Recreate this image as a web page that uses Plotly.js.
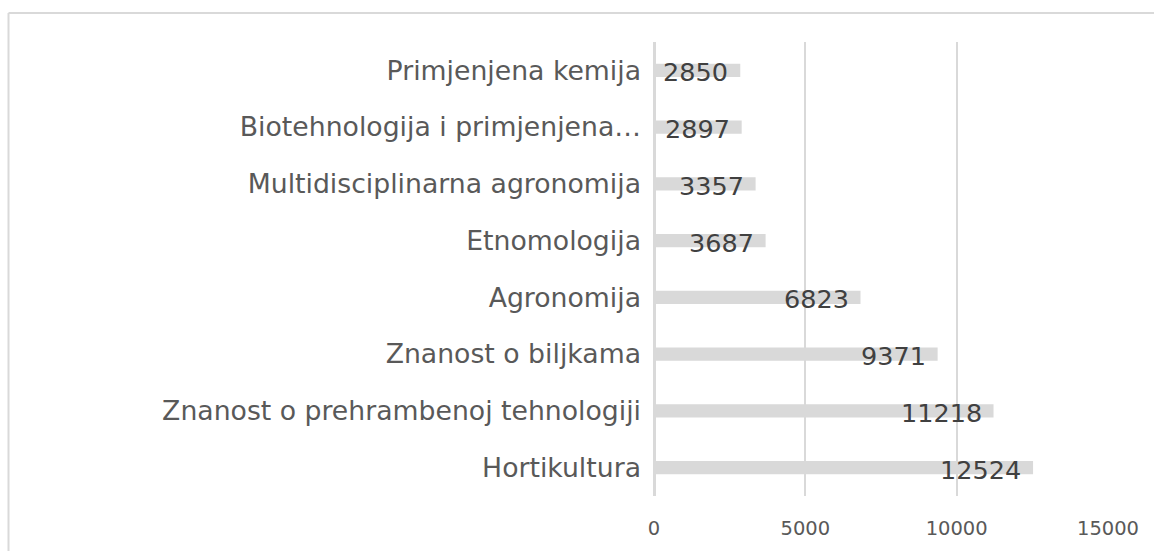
<!DOCTYPE html>
<html>
<head>
<meta charset="utf-8">
<script src="https://cdn.plot.ly/plotly-3.0.1.min.js"></script>
<style>
  html, body { margin: 0; padding: 0; background: #ffffff; }
  #chart { width: 1154px; height: 551px; }
</style>
</head>
<body>
<div id="chart"></div>
<script>
// Categories listed top to bottom
const categories = [
  "Primjenjena kemija",
  "Biotehnologija i primjenjena…",
  "Multidisciplinarna agronomija",
  "Etnomologija",
  "Agronomija",
  "Znanost o biljkama",
  "Znanost o prehrambenoj tehnologiji",
  "Hortikultura"
];
const values = [2850, 2897, 3357, 3687, 6823, 9371, 11218, 12524];
const xTickValues = [0, 5000, 10000, 15000];
const xTickLabels = ["0", "5000", "10000", "15000"];

const W = 1154, H = 551;
const mL = 654, mR = 46, mT = 42, mB = 55;
const plotW = W - mL - mR, plotH = H - mT - mB;
// frame lines (left and top edge of chart area) in paper coords
const frameX = (8.5 - mL) / plotW;
const frameY = (H - mB - 13) / plotH;

const trace = {
  type: "bar",
  orientation: "h",
  y: categories,
  x: values,
  marker: { color: "#d9d9d9", line: { width: 0 } },
  width: 0.23,
  hoverinfo: "none"
};

// data labels placed at each bar's end through the axes
const labels = values.map((v, i) => ({
  x: v,
  y: categories[i],
  xref: "x",
  yref: "y",
  text: String(v),
  showarrow: false,
  xanchor: "right",
  yanchor: "middle",
  xshift: -10,
  yshift: -2,
  font: { family: "DejaVu Sans", size: 25.5, color: "#404040" }
}));

const layout = {
  width: W,
  height: H,
  margin: { l: mL, r: mR, t: mT, b: mB, pad: 0 },
  paper_bgcolor: "#ffffff",
  plot_bgcolor: "#ffffff",
  showlegend: false,
  font: { family: "DejaVu Sans", color: "#595959" },
  xaxis: {
    range: [0, 15000],
    tickvals: xTickValues,
    ticktext: xTickLabels,
    showgrid: true,
    gridcolor: "#d9d9d9",
    gridwidth: 2,
    zeroline: true,
    zerolinecolor: "#d9d9d9",
    zerolinewidth: 3,
    showline: false,
    ticks: "",
    ticklabelstandoff: 18,
    tickfont: { family: "DejaVu Sans", size: 19.5, color: "#595959" },
    fixedrange: true
  },
  yaxis: {
    type: "category",
    autorange: "reversed",
    showgrid: false,
    zeroline: false,
    showline: false,
    ticks: "",
    ticklabelstandoff: 12,
    tickfont: { family: "DejaVu Sans", size: 26.7, color: "#595959" },
    fixedrange: true
  },
  annotations: labels,
  shapes: [
    { type: "line", xref: "paper", yref: "paper", x0: frameX, x1: frameX, y0: frameY, y1: -0.3,
      line: { color: "#d9d9d9", width: 2 } },
    { type: "line", xref: "paper", yref: "paper", x0: frameX, x1: 1.2, y0: frameY, y1: frameY,
      line: { color: "#d9d9d9", width: 2 } }
  ]
};

Plotly.newPlot("chart", [trace], layout, { displayModeBar: false, staticPlot: true });
</script>
</body>
</html>
